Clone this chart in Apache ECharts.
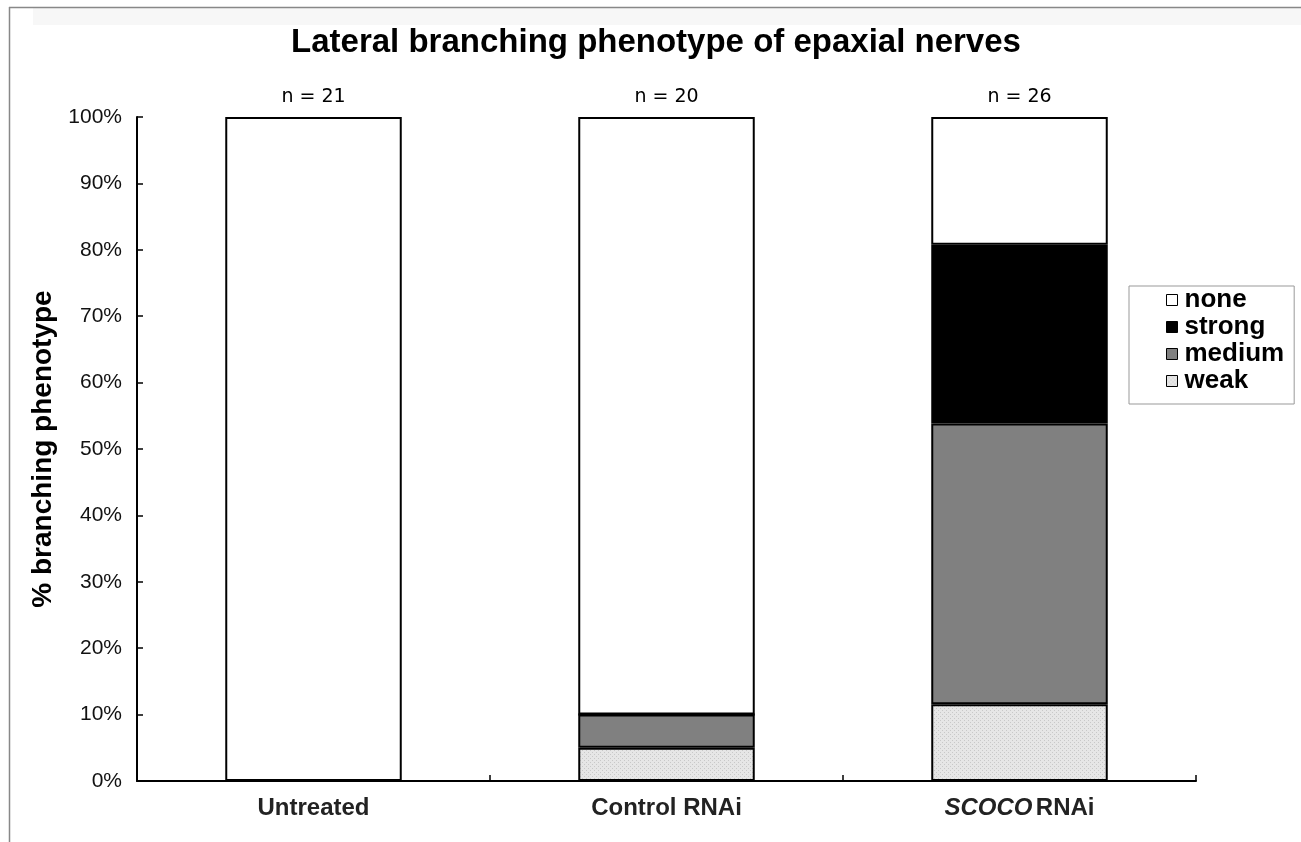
<!DOCTYPE html>
<html><head><meta charset="utf-8">
<script src="https://cdn.jsdelivr.net/npm/echarts@6/dist/echarts.min.js"></script>
<style>html,body{margin:0;padding:0;background:#fff}#c{width:1301px;height:842px}</style>
</head><body><div id="c"></div>
<script>
const categories = ['Untreated', 'Control RNAi', 'SCOCO RNAi'];
const nCounts = [21, 20, 26];
const weak = [0, 5, 11.54];
const medium = [0, 5, 42.31];
const strong = [0, 0, 26.92];
const none = [100, 90, 19.23];
const yTicks = [0, 10, 20, 30, 40, 50, 60, 70, 80, 90, 100];

// dotted pattern for "weak"
const pc = document.createElement('canvas');
pc.width = 4; pc.height = 4;
const pctx = pc.getContext('2d');
pctx.fillStyle = '#e6e6e6'; pctx.fillRect(0,0,4,4);
pctx.fillStyle = '#c8c8c8';
pctx.fillRect(0,0,1,1); pctx.fillRect(2,2,1,1);
const weakFill = {image: pc, repeat: 'repeat'};

const chart = echarts.init(document.getElementById('c'));
const border = {borderColor: '#000', borderWidth: 2};
const mk = (name, data, color) => ({
  name, type: 'bar', stack: 'a', data, barWidth: '50%',
  itemStyle: Object.assign({color}, border),
  emphasis: {disabled: true}
});
const noneSeries = mk('none', none, '#ffffff');
noneSeries.label = {
  show: true, position: 'top', distance: 10,
  formatter: p => 'n = ' + nCounts[p.dataIndex],
  fontFamily: 'DejaVu Sans', fontSize: 19, color: '#000'
};
chart.setOption({
  animation: false,
  backgroundColor: '#fff',
  title: {
    text: 'Lateral branching phenotype of epaxial nerves',
    left: 651, top: 21, textAlign: 'center',
    textStyle: {fontFamily: 'Liberation Sans', fontWeight: 'bold', fontSize: 33, color: '#000'}
  },
  graphic: [
    {type: 'rect', shape: {x: 33, y: 8, width: 1268, height: 17}, style: {fill: '#f7f7f7'}, silent: true, z: -1},
    {type: 'line', shape: {x1: 9.5, y1: 7, x2: 9.5, y2: 842}, style: {stroke: '#888', lineWidth: 1.5}},
    {type: 'line', shape: {x1: 9, y1: 7.5, x2: 1301, y2: 7.5}, style: {stroke: '#888', lineWidth: 1.5}}
  ],
  legend: {
    orient: 'vertical', left: 1129, top: 286,
    padding: [1, 10, 10, 37],
    itemWidth: 11, itemHeight: 11, itemGap: 1,
    borderColor: '#999', borderWidth: 1,
    icon: 'rect',
    itemStyle: {borderColor: '#000', borderWidth: 1},
    data: ['none', 'strong', 'medium', 'weak'],
    textStyle: {fontFamily: 'Liberation Sans', fontWeight: 'bold', fontSize: 26, color: '#000', padding: [0,0,0,2]}
  },
  grid: {left: 137, right: 105, top: 117, bottom: 61},
  xAxis: {
    type: 'category', data: categories,
    axisLine: {lineStyle: {color: '#000', width: 2}},
    axisTick: {show: true, inside: true, length: 6, lineStyle: {color: '#000', width: 1.5}},
    axisLabel: {
      margin: 15,
      formatter: v => v === 'SCOCO RNAi' ? '{i|SCOCO} {b|RNAi}' : '{b|' + v + '}',
      rich: {
        b: {fontFamily: 'Liberation Sans', fontWeight: 'bold', fontSize: 24, color: '#222'},
        i: {fontFamily: 'Liberation Sans', fontWeight: 'bold', fontStyle: 'italic', fontSize: 24, color: '#222'}
      }
    }
  },
  yAxis: {
    type: 'value', min: 0, max: 100, interval: 10,
    name: '% branching phenotype', nameLocation: 'middle', nameGap: 80,
    nameTextStyle: {fontFamily: 'Liberation Sans', fontWeight: 'bold', fontSize: 28, color: '#000'},
    splitLine: {show: false},
    axisLine: {show: true, lineStyle: {color: '#000', width: 2}},
    axisTick: {show: true, inside: true, length: 6, lineStyle: {color: '#000', width: 1.5}},
    axisLabel: {
      margin: 15, formatter: v => yTicks.includes(v) ? v + '%' : '',
      fontFamily: 'Liberation Sans', fontSize: 21, color: '#111'
    }
  },
  series: [
    mk('weak', weak, weakFill),
    mk('medium', medium, '#808080'),
    mk('strong', strong, '#000000'),
    noneSeries
  ]
});
</script></body></html>
